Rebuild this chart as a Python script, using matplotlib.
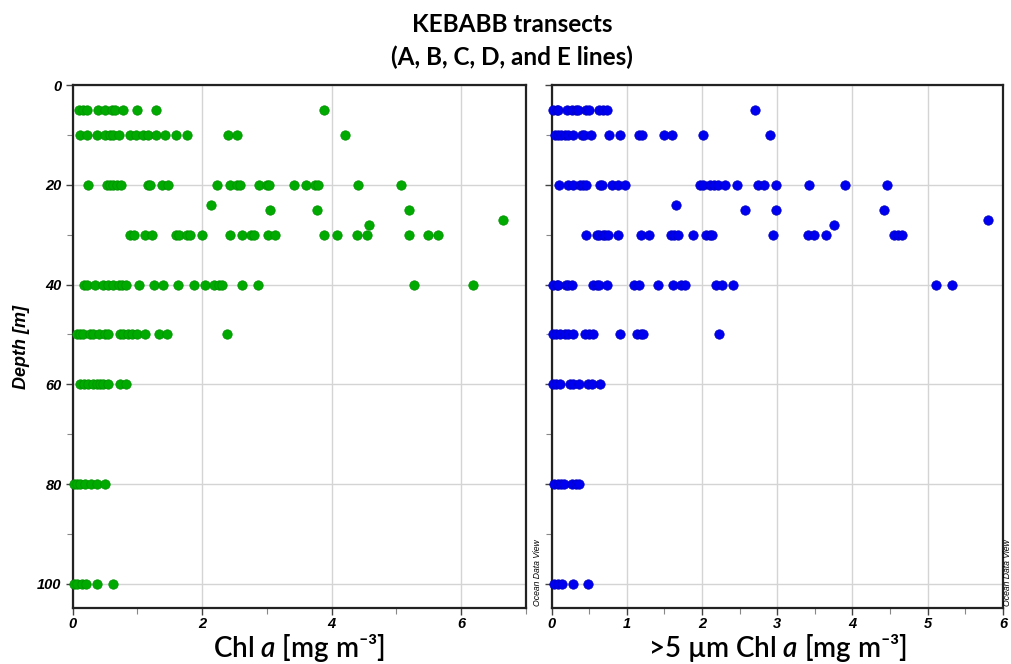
import matplotlib
matplotlib.use("Agg")
import matplotlib.pyplot as plt
from matplotlib.ticker import MultipleLocator

# ---------------- data (depth in m, Chl a in mg m-3) ----------------
chl_depths = [5, 10, 20, 24, 25, 27, 28, 30, 40, 50, 60, 80, 100]
chl_vals = [
    [0.09, 0.16, 0.22, 0.39, 0.50, 0.60, 0.66, 0.77, 0.99, 1.28, 3.89],
    [0.11, 0.22, 0.37, 0.50, 0.57, 0.63, 0.71, 0.89, 0.98, 1.09, 1.16, 1.29, 1.42,
     1.59, 1.77, 2.40, 2.54, 4.20],
    [0.23, 0.53, 0.58, 0.63, 0.68, 0.74, 1.16, 1.20, 1.38, 1.48, 2.23, 2.43, 2.54,
     2.59, 2.88, 3.00, 3.03, 3.42, 3.60, 3.74, 3.79, 4.41, 5.07],
    [2.14],
    [3.05, 3.77, 5.20],
    [6.65],
    [4.58],
    [0.89, 0.94, 1.11, 1.22, 1.59, 1.65, 1.77, 1.82, 2.00, 2.43, 2.61, 2.75, 2.80,
     3.02, 3.12, 3.88, 4.09, 4.40, 4.55, 5.20, 5.49, 5.65],
    [0.18, 0.22, 0.35, 0.47, 0.54, 0.63, 0.71, 0.76, 0.83, 1.02, 1.25, 1.39, 1.63,
     1.87, 2.04, 2.19, 2.26, 2.31, 2.62, 2.87, 5.27, 6.19],
    [0.06, 0.11, 0.16, 0.27, 0.32, 0.40, 0.50, 0.55, 0.73, 0.78, 0.86, 0.91, 0.99,
     1.11, 1.33, 1.46, 2.38],
    [0.12, 0.18, 0.24, 0.32, 0.37, 0.42, 0.47, 0.55, 0.73, 0.83],
    [0.02, 0.06, 0.11, 0.19, 0.28, 0.37, 0.50],
    [0.02, 0.06, 0.14, 0.21, 0.37, 0.63],
]

big_depths = [5, 10, 20, 24, 25, 27, 28, 30, 40, 50, 60, 80, 100]
big_vals = [
    [0.02, 0.07, 0.09, 0.20, 0.27, 0.33, 0.35, 0.46, 0.50, 0.63, 0.68, 0.74, 2.70],
    [0.04, 0.09, 0.13, 0.18, 0.22, 0.29, 0.40, 0.43, 0.52, 0.77, 0.91, 1.16, 1.20,
     1.49, 1.60, 2.01, 2.91],
    [0.10, 0.22, 0.29, 0.38, 0.42, 0.46, 0.64, 0.67, 0.81, 0.88, 0.98, 1.97, 2.01,
     2.11, 2.16, 2.21, 2.31, 2.47, 2.74, 2.83, 2.98, 3.42, 3.90, 4.46],
    [1.66],
    [2.57, 2.99, 4.42],
    [5.80],
    [3.75],
    [0.46, 0.60, 0.63, 0.68, 0.71, 0.75, 0.89, 1.19, 1.29, 1.59, 1.63, 1.68, 1.88,
     2.05, 2.10, 2.13, 2.95, 3.41, 3.49, 3.65, 4.55, 4.60, 4.66],
    [0.02, 0.07, 0.09, 0.19, 0.22, 0.27, 0.55, 0.60, 0.63, 0.74, 1.09, 1.16, 1.42,
     1.62, 1.72, 1.78, 2.19, 2.27, 2.41, 5.11, 5.32],
    [0.02, 0.06, 0.11, 0.18, 0.22, 0.28, 0.44, 0.50, 0.55, 0.91, 1.14, 1.19, 1.21, 2.23],
    [0.02, 0.06, 0.11, 0.24, 0.29, 0.37, 0.49, 0.54, 0.65],
    [0.03, 0.08, 0.12, 0.16, 0.27, 0.32, 0.36],
    [0.03, 0.08, 0.14, 0.29, 0.48],
]

depth_ticks = [0, 20, 40, 60, 80, 100]
left_xticks = [0, 2, 4, 6]
right_xticks = [0, 1, 2, 3, 4, 5, 6]

title_line1 = "KEBABB transects"
title_line2 = "(A, B, C, D, and E lines)"
left_xlabel = r"Chl $\mathit{a}$ [mg m⁻³]"
right_xlabel = r">5 µm Chl $\mathit{a}$ [mg m⁻³]"
ylabel_text = "Depth [m]"

# ---------------- figure ----------------
W, H = 1012, 664
fig = plt.figure(figsize=(W / 100, H / 100), dpi=100)
plt.rcParams['mathtext.fontset'] = 'custom'
plt.rcParams['mathtext.it'] = 'Lato:italic:semibold'
plt.rcParams['mathtext.rm'] = 'Lato:semibold'

def px_axes(x0, x1, y0, y1):
    return fig.add_axes([x0 / W, 1 - y1 / H, (x1 - x0) / W, (y1 - y0) / H])

axL = px_axes(72.7, 525.7, 85, 608.3)
axR = px_axes(551.5, 1003, 85, 608.3)

tick_font = dict(family="Liberation Sans", weight="bold", style="italic", size=10.5)

def flatten(depths, vals):
    xs, ys = [], []
    for d, vs in zip(depths, vals):
        xs.extend(vs)
        ys.extend([d] * len(vs))
    return xs, ys

for ax, depths, vals, color, edge, xmax, xticks, minor in [
    (axL, chl_depths, chl_vals, "#00aa00", "#008f00", 7, left_xticks, 1),
    (axR, big_depths, big_vals, "#0000f0", "#0000c0", 6, right_xticks, 0.5),
]:
    xs, ys = flatten(depths, vals)
    ax.scatter(xs, ys, s=46, c=color, edgecolors=edge, linewidths=0.5, zorder=3,
               clip_on=False)
    ax.set_xlim(0, xmax)
    ax.set_ylim(104.9, 0)
    ax.set_xticks(xticks)
    ax.xaxis.set_minor_locator(MultipleLocator(minor))
    ax.set_yticks(depth_ticks)
    ax.yaxis.set_minor_locator(MultipleLocator(10))
    ax.grid(True, which="major", color="#d4d4d4", linewidth=1.0, zorder=0)
    ax.set_axisbelow(True)
    for s in ax.spines.values():
        s.set_linewidth(1.6)
        s.set_color("#222222")
    ax.tick_params(which="major", direction="out", length=5, width=1, color="#444444",
                   pad=3)
    ax.tick_params(axis="x", which="major", pad=1)
    ax.tick_params(which="minor", direction="out", length=4, width=0.8, color="#888888")
    for lab in ax.get_xticklabels() + ax.get_yticklabels():
        lab.set_fontproperties(matplotlib.font_manager.FontProperties(**tick_font))

axR.set_yticklabels([])

# x-axis labels placed by baseline
label_family = ["Lato", "DejaVu Sans"]
fig.text(((72.7 + 525.7) / 2) / W, 1 - 657.5 / H, left_xlabel, ha="center",
         va="baseline", family=label_family, weight="semibold", fontsize=20)
fig.text(((551.5 + 1003) / 2) / W, 1 - 657.5 / H, right_xlabel, ha="center",
         va="baseline", family=label_family, weight="semibold", fontsize=20)

axL.set_ylabel(ylabel_text, family="Liberation Sans", weight="bold", style="italic",
               fontsize=13, labelpad=5)

fig.text(512 / W, 1 - 32 / H, title_line1, ha="center", va="baseline",
         family="Lato", weight="bold", fontsize=17.5)
fig.text(512 / W, 1 - 65 / H, title_line2, ha="center", va="baseline",
         family="Lato", weight="bold", fontsize=17.5)

fig.text(537 / W, 1 - 606 / H, "Ocean Data View", rotation=90, ha="center",
         va="bottom", family="Liberation Sans", style="italic", fontsize=6.2)
fig.text(1008 / W, 1 - 606 / H, "Ocean Data View", rotation=90, ha="center",
         va="bottom", family="Liberation Sans", style="italic", fontsize=6.2)

fig.savefig("out.png", dpi=100)
